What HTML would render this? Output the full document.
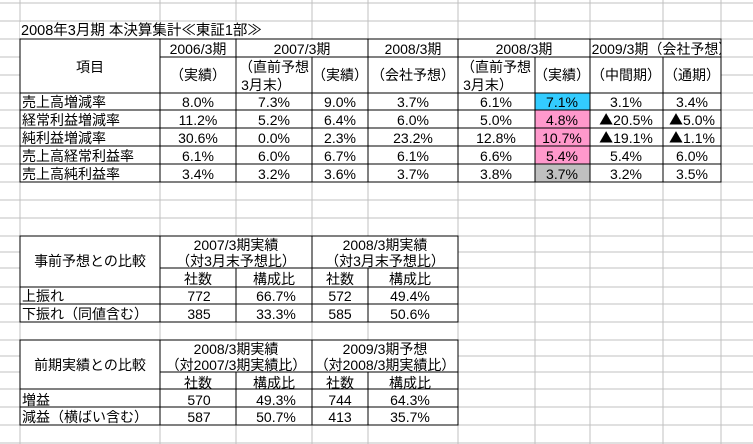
<!DOCTYPE html>
<html><head><meta charset="utf-8"><style>
html,body{margin:0;padding:0;background:#fff;width:753px;height:444px;overflow:hidden}
svg text{font-family:"Liberation Sans","Noto Sans CJK JP",sans-serif;font-size:14px;fill:#000}
svg tspan.t{font-family:"Noto Sans CJK JP",sans-serif}
</style></head><body>
<svg width="753" height="444" xmlns="http://www.w3.org/2000/svg">
<defs><clipPath id="c1"><rect x="590" y="39" width="131" height="18"/></clipPath></defs>
<g stroke="#c0c0c0" stroke-width="1">
<line x1="20" y1="0" x2="20" y2="444"/><line x1="160" y1="0" x2="160" y2="444"/><line x1="236" y1="0" x2="236" y2="444"/><line x1="312" y1="0" x2="312" y2="444"/><line x1="368" y1="0" x2="368" y2="444"/><line x1="458" y1="0" x2="458" y2="444"/><line x1="535" y1="0" x2="535" y2="444"/><line x1="590" y1="0" x2="590" y2="444"/><line x1="663" y1="0" x2="663" y2="444"/><line x1="721" y1="0" x2="721" y2="444"/>
<line x1="0" y1="3" x2="753" y2="3"/><line x1="0" y1="21" x2="753" y2="21"/><line x1="0" y1="39" x2="753" y2="39"/><line x1="0" y1="57" x2="753" y2="57"/><line x1="0" y1="75" x2="753" y2="75"/><line x1="0" y1="93" x2="753" y2="93"/><line x1="0" y1="110" x2="753" y2="110"/><line x1="0" y1="128" x2="753" y2="128"/><line x1="0" y1="146" x2="753" y2="146"/><line x1="0" y1="164" x2="753" y2="164"/><line x1="0" y1="182" x2="753" y2="182"/><line x1="0" y1="200" x2="753" y2="200"/><line x1="0" y1="218" x2="753" y2="218"/><line x1="0" y1="236" x2="753" y2="236"/><line x1="0" y1="252" x2="753" y2="252"/><line x1="0" y1="268" x2="753" y2="268"/><line x1="0" y1="287" x2="753" y2="287"/><line x1="0" y1="304" x2="753" y2="304"/><line x1="0" y1="322" x2="753" y2="322"/><line x1="0" y1="340" x2="753" y2="340"/><line x1="0" y1="356" x2="753" y2="356"/><line x1="0" y1="372" x2="753" y2="372"/><line x1="0" y1="389" x2="753" y2="389"/><line x1="0" y1="407" x2="753" y2="407"/><line x1="0" y1="425" x2="753" y2="425"/><line x1="0" y1="443" x2="753" y2="443"/>
</g>
<rect x="20" y="22" width="290" height="16" fill="#fff"/>
<rect x="20" y="39" width="701" height="143" fill="#fff"/>
<rect x="20" y="236" width="438" height="86" fill="#fff"/>
<rect x="20" y="340" width="438" height="85" fill="#fff"/>
<rect x="535" y="93" width="55" height="17" fill="#33ccff"/>
<rect x="535" y="110" width="55" height="54" fill="#ff99cc"/>
<rect x="535" y="164" width="55" height="18" fill="#c0c0c0"/>
<g stroke="#000" stroke-width="1" fill="none">
<rect x="20" y="39" width="701" height="143"/>
<line x1="160" y1="57" x2="721" y2="57"/><line x1="20" y1="93" x2="721" y2="93"/><line x1="20" y1="110" x2="721" y2="110"/><line x1="20" y1="128" x2="721" y2="128"/><line x1="20" y1="146" x2="721" y2="146"/><line x1="20" y1="164" x2="721" y2="164"/>
<line x1="160" y1="39" x2="160" y2="182"/><line x1="236" y1="39" x2="236" y2="182"/><line x1="312" y1="57" x2="312" y2="182"/><line x1="368" y1="39" x2="368" y2="182"/><line x1="458" y1="39" x2="458" y2="182"/><line x1="535" y1="57" x2="535" y2="182"/><line x1="590" y1="39" x2="590" y2="182"/><line x1="663" y1="57" x2="663" y2="182"/>
<rect x="20" y="236" width="438" height="86"/>
<line x1="160" y1="268" x2="458" y2="268"/><line x1="20" y1="287" x2="458" y2="287"/><line x1="20" y1="304" x2="458" y2="304"/>
<line x1="160" y1="236" x2="160" y2="322"/><line x1="236" y1="268" x2="236" y2="322"/><line x1="312" y1="236" x2="312" y2="322"/><line x1="368" y1="268" x2="368" y2="322"/>
<rect x="20" y="340" width="438" height="85"/>
<line x1="160" y1="372" x2="458" y2="372"/><line x1="20" y1="389" x2="458" y2="389"/><line x1="20" y1="407" x2="458" y2="407"/>
<line x1="160" y1="340" x2="160" y2="425"/><line x1="236" y1="372" x2="236" y2="425"/><line x1="312" y1="340" x2="312" y2="425"/><line x1="368" y1="372" x2="368" y2="425"/>
</g>
<text x="21" y="35" style="font-size:14.5px">2008年3月期  本決算集計≪東証1部≫</text>
<g text-anchor="middle">
<text x="198" y="54">2006/3期</text><text x="302" y="54">2007/3期</text><text x="413" y="54">2008/3期</text><text x="524" y="54">2008/3期</text>
<text x="662" y="54" clip-path="url(#c1)">2009/3期（会社予想）</text>
<text x="90" y="72">項目</text>
<text x="198" y="80">（実績）</text><text x="274" y="72">（直前予想</text><text x="266" y="90">3月末）</text><text x="340" y="80">（実績）</text><text x="413" y="80">（会社予想）</text><text x="496" y="72">（直前予想</text><text x="488" y="90">3月末）</text><text x="562" y="80">（実績）</text><text x="626" y="80">（中間期）</text><text x="692" y="80">（通期）</text>
<text x="198" y="107">8.0%</text><text x="274" y="107">7.3%</text><text x="340" y="107">9.0%</text><text x="413" y="107">3.7%</text><text x="496" y="107">6.1%</text><text x="562" y="107">7.1%</text><text x="626" y="107">3.1%</text><text x="692" y="107">3.4%</text>
<text x="198" y="125">11.2%</text><text x="274" y="125">5.2%</text><text x="340" y="125">6.4%</text><text x="413" y="125">6.0%</text><text x="496" y="125">5.0%</text><text x="562" y="125">4.8%</text><text x="626" y="125"><tspan class="t">▲</tspan>20.5%</text><text x="692" y="125"><tspan class="t">▲</tspan>5.0%</text>
<text x="198" y="143">30.6%</text><text x="274" y="143">0.0%</text><text x="340" y="143">2.3%</text><text x="413" y="143">23.2%</text><text x="496" y="143">12.8%</text><text x="562" y="143">10.7%</text><text x="626" y="143"><tspan class="t">▲</tspan>19.1%</text><text x="692" y="143"><tspan class="t">▲</tspan>1.1%</text>
<text x="198" y="161">6.1%</text><text x="274" y="161">6.0%</text><text x="340" y="161">6.7%</text><text x="413" y="161">6.1%</text><text x="496" y="161">6.6%</text><text x="562" y="161">5.4%</text><text x="626" y="161">5.4%</text><text x="692" y="161">6.0%</text>
<text x="198" y="179">3.4%</text><text x="274" y="179">3.2%</text><text x="340" y="179">3.6%</text><text x="413" y="179">3.7%</text><text x="496" y="179">3.8%</text><text x="562" y="179">3.7%</text><text x="626" y="179">3.2%</text><text x="692" y="179">3.5%</text>
<text x="90" y="266">事前予想との比較</text>
<text x="236" y="250">2007/3期実績</text><text x="236" y="266">（対3月末予想比）</text>
<text x="385" y="250">2008/3期実績</text><text x="385" y="266">（対3月末予想比）</text>
<text x="198" y="284">社数</text><text x="274" y="284">構成比</text><text x="340" y="284">社数</text><text x="410" y="284">構成比</text>
<text x="199" y="301">772</text><text x="276" y="301">66.7%</text><text x="340" y="301">572</text><text x="410" y="301">49.4%</text>
<text x="199" y="319">385</text><text x="276" y="319">33.3%</text><text x="340" y="319">585</text><text x="410" y="319">50.6%</text>
<text x="90" y="370">前期実績との比較</text>
<text x="236" y="354">2008/3期実績</text><text x="236" y="370">（対2007/3期実績比）</text>
<text x="385" y="354">2009/3期予想</text><text x="385" y="370">（対2008/3期実績比）</text>
<text x="198" y="388">社数</text><text x="274" y="388">構成比</text><text x="340" y="388">社数</text><text x="410" y="388">構成比</text>
<text x="199" y="405">570</text><text x="276" y="405">49.3%</text><text x="340" y="405">744</text><text x="410" y="405">64.3%</text>
<text x="199" y="422">587</text><text x="276" y="422">50.7%</text><text x="340" y="422">413</text><text x="410" y="422">35.7%</text>
</g>
<g>
<text x="22" y="107">売上高増減率</text><text x="22" y="125">経常利益増減率</text><text x="22" y="143">純利益増減率</text><text x="22" y="161">売上高経常利益率</text><text x="22" y="179">売上高純利益率</text>
<text x="22" y="301">上振れ</text><text x="22" y="319">下振れ（同値含む）</text>
<text x="22" y="405">増益</text><text x="22" y="422">減益（横ばい含む）</text>
</g>
</svg>
</body></html>
